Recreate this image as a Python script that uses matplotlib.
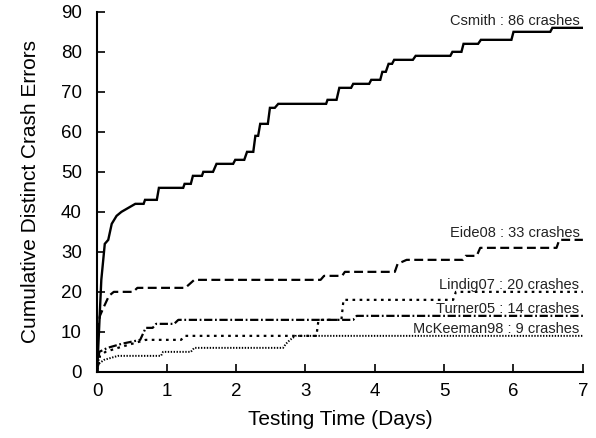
import matplotlib
matplotlib.use("Agg")
import matplotlib.pyplot as plt

plt.rcParams['font.family'] = ['Liberation Sans', 'DejaVu Sans']

# testing time (days) and cumulative crash count
csmith_days = [0.00, 0.06, 0.11, 0.16, 0.21, 0.28, 0.35, 0.45, 0.55, 0.67, 0.69, 0.86,
               0.89, 1.24, 1.26, 1.35, 1.38, 1.51, 1.53, 1.67, 1.72, 1.96, 1.99, 2.12,
               2.16, 2.25, 2.28, 2.32, 2.35, 2.46, 2.49, 2.56, 2.61, 3.30, 3.32, 3.45,
               3.49, 3.66, 3.69, 3.92, 3.95, 4.08, 4.11, 4.16, 4.20, 4.25, 4.28, 4.55,
               4.59, 5.09, 5.12, 5.25, 5.28, 5.49, 5.53, 5.97, 6.00, 6.53, 6.56, 7.00]
csmith_count = [0, 23, 32, 33, 37, 39, 40, 41, 42, 42, 43, 43,
                46, 46, 47, 47, 49, 49, 50, 50, 52, 52, 53, 53,
                55, 55, 59, 59, 62, 62, 66, 66, 67, 67, 68, 68,
                71, 71, 72, 72, 73, 73, 75, 75, 77, 77, 78, 78,
                79, 79, 80, 80, 82, 82, 83, 83, 85, 85, 86, 86]

eide_days = [0.00, 0.01, 0.04, 0.09, 0.17, 0.24, 0.52, 0.58, 1.27, 1.40, 3.22, 3.27,
             3.53, 3.57, 4.29, 4.33, 4.46, 5.27, 5.31, 5.47, 5.52, 6.62, 6.66, 7.00]
eide_count = [0, 11, 14, 16, 19, 20, 20, 21, 21, 23, 23, 24,
              24, 25, 25, 27, 28, 28, 29, 29, 31, 31, 33, 33]

lindig_days = [0.00, 0.04, 0.12, 0.30, 0.50, 0.70, 1.21, 1.26, 3.16, 3.19, 3.52, 3.55,
               5.13, 5.17, 7.00]
lindig_count = [0, 4, 5, 6, 7, 8, 8, 9, 9, 13, 13, 18, 18, 20, 20]

turner_days = [0.00, 0.03, 0.15, 0.35, 0.62, 0.70, 0.80, 0.85, 1.11, 1.17, 3.69, 3.74, 7.00]
turner_count = [0, 5, 6, 7, 8, 11, 11, 12, 12, 13, 13, 14, 14]

mckeeman_days = [0.00, 0.02, 0.10, 0.30, 0.92, 0.95, 1.35, 1.40, 2.68, 2.72, 2.78, 2.86, 7.00]
mckeeman_count = [0, 2, 3, 4, 4, 5, 5, 6, 6, 7, 8, 9, 9]

labels = ['Csmith : 86 crashes', 'Eide08 : 33 crashes', 'Lindig07 : 20 crashes',
          'Turner05 : 14 crashes', 'McKeeman98 : 9 crashes']

fig = plt.figure(figsize=(5.96, 4.38), dpi=100)
ax = fig.add_axes([0.163, 0.151, 0.815, 0.822])

ax.plot(csmith_days, csmith_count, color='black', lw=1.7, solid_joinstyle='miter')
ax.plot(eide_days, eide_count, color='black', lw=1.6, dashes=(4, 2))
ax.plot(lindig_days, lindig_count, color='black', lw=1.6, dashes=(1.2, 2.0))
ax.plot(turner_days, turner_count, color='black', lw=1.6, dashes=(3.7, 1.2, 0.8, 1.2))
ax.plot(mckeeman_days, mckeeman_count, color='black', lw=1.4, dashes=(0.7, 0.8))

finals = [csmith_count[-1], eide_count[-1], lindig_count[-1], turner_count[-1], mckeeman_count[-1]]
for lab, v in zip(labels, finals):
    ax.text(6.95, v + 0.6, lab, ha='right', va='baseline', fontsize=10.5, color='#222222')

ax.set_xlim(0, 7)
ax.set_ylim(0, 90)
ax.set_xticks(range(0, 8))
ax.set_yticks(range(0, 91, 10))
ax.spines['top'].set_visible(False)
ax.spines['right'].set_visible(False)
ax.spines['left'].set_linewidth(1.5)
ax.spines['bottom'].set_linewidth(1.5)
ax.tick_params(direction='in', length=6, width=1.2, labelsize=13.5)
ax.tick_params(axis='y', pad=11)
ax.tick_params(axis='x', pad=8)

ax.set_xlabel('Testing Time (Days)', fontsize=15, labelpad=7)
ax.set_ylabel('Cumulative Distinct Crash Errors', fontsize=15, labelpad=15)

fig.savefig('out.png', dpi=100)
